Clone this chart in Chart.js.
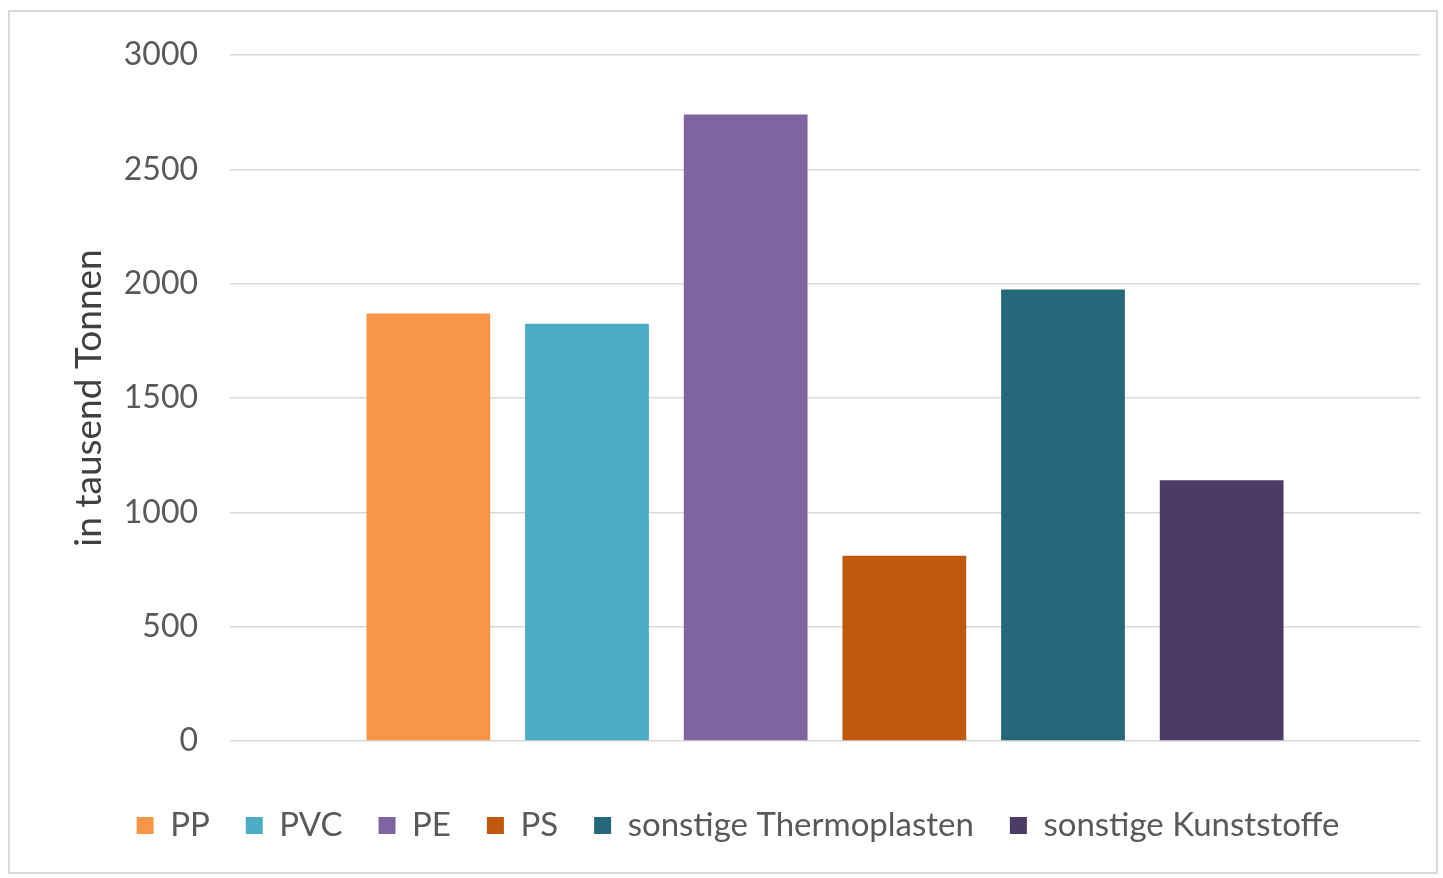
<!DOCTYPE html>
<html>
<head>
<meta charset="utf-8">
<script src="https://cdn.jsdelivr.net/npm/chart.js@4/dist/chart.umd.min.js"></script>
<style>
  html, body { margin: 0; padding: 0; background: #ffffff; }
  #frame {
    position: absolute; left: 8px; top: 10px;
    width: 1430px; height: 864px;
    border: 2px solid #d9d9d9; box-sizing: border-box;
  }
  #wrap { position: absolute; left: 0; top: 0; width: 1426px; height: 860px; }
</style>
</head>
<body>
<div id="frame"><div id="wrap"><canvas id="c"></canvas></div></div>
<script>
// Kunststoffverbrauch nach Sorte, in tausend Tonnen
const categories = ['Kunststoffe'];
const seriesNames = ['PP', 'PVC', 'PE', 'PS', 'sonstige Thermoplasten', 'sonstige Kunststoffe'];
const seriesValues = [1870, 1825, 2740, 810, 1975, 1140];
const seriesColors = ['#f79646', '#4bacc6', '#8064a2', '#c0580e', '#24687a', '#4b3b65'];
const yTicks = [0, 500, 1000, 1500, 2000, 2500, 3000];

const datasets = seriesNames.map((name, i) => ({
  label: name,
  data: [seriesValues[i]],
  backgroundColor: seriesColors[i],
  borderWidth: 0,
  categoryPercentage: 0.8,
  barPercentage: 0.78
}));

const FONT = 'Lato, "Open Sans", sans-serif';

new Chart(document.getElementById('c'), {
  type: 'bar',
  data: { labels: categories, datasets },
  options: {
    responsive: true,
    maintainAspectRatio: false,
    animation: false,
    layout: { padding: { left: 46, right: 16, top: 43, bottom: 20 } },
    plugins: {
      tooltip: { enabled: false },
      legend: {
        position: 'bottom',
        labels: {
          color: '#595959',
          font: { family: FONT, size: 33 },
          boxWidth: 17,
          boxHeight: 17,
          padding: 36
        }
      }
    },
    scales: {
      x: {
        display: true,
        grid: { display: false, drawTicks: false },
        border: { display: false },
        ticks: { display: false },
        afterFit: (axis) => { axis.height = 32; }
      },
      y: {
        min: 0, max: 3000,
        afterBuildTicks: (axis) => { axis.ticks = yTicks.map(v => ({ value: v })); },
        afterFit: (axis) => { axis.width = 174; },
        border: { display: false },
        grid: {
          color: '#d9d9d9', lineWidth: 1.5,
          drawTicks: true, tickLength: 32, tickColor: 'rgba(0,0,0,0)'
        },
        ticks: {
          color: '#595959',
          font: { family: FONT, size: 32 },
          padding: 0,
          callback: (v) => String(v)
        },
        title: {
          display: true,
          text: 'in tausend Tonnen',
          color: '#404040',
          font: { family: FONT, size: 37 },
          padding: { top: 11, bottom: 0 }
        }
      }
    }
  }
});
</script>
</body>
</html>
